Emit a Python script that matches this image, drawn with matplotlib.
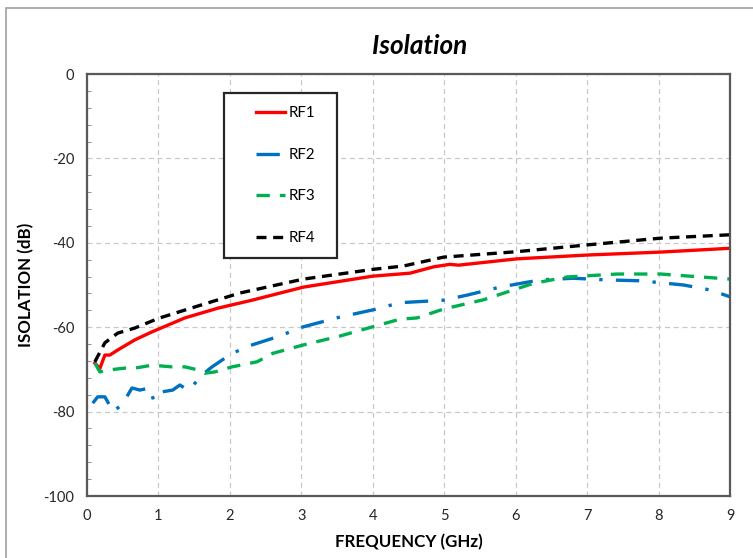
import matplotlib
matplotlib.use("Agg")
import matplotlib.pyplot as plt
from matplotlib.patches import Rectangle
from matplotlib.ticker import MultipleLocator

plt.rcParams['font.family'] = ['Lato', 'DejaVu Sans']
plt.rcParams['axes.unicode_minus'] = False

# RF1 - red solid
rf1_f = [0.11, 0.18, 0.25, 0.32, 0.43, 0.67, 0.91, 1.37, 1.83, 2.31, 3.03, 4.0, 4.52, 4.85, 5.08, 5.2, 6.02, 7.0, 8.03, 9.0]
rf1_db = [-68.5, -69.8, -66.6, -66.6, -65.4, -63.0, -61.1, -57.8, -55.5, -53.6, -50.5, -47.9, -47.2, -45.7, -45.1, -45.3, -43.8, -42.9, -42.2, -41.3]

# RF2 - blue dash-dot
rf2_f = [0.08, 0.15, 0.25, 0.29, 0.36, 0.49, 0.57, 0.63, 0.74, 0.88, 0.93, 1.02, 1.2, 1.3, 1.41, 1.49, 1.61, 1.75, 1.89, 2.03, 2.31, 2.66, 3.03, 3.54, 4.0, 4.38, 4.99, 5.32, 5.78, 6.34, 6.81, 7.28, 7.75, 8.35, 8.73, 9.0]
rf2_db = [-78.0, -76.5, -76.5, -77.7, -80.0, -78.4, -76.1, -74.4, -74.9, -74.4, -77.2, -75.4, -74.9, -73.7, -74.9, -73.7, -71.3, -69.4, -67.8, -66.2, -64.2, -62.3, -59.9, -57.6, -55.9, -54.2, -53.6, -52.4, -50.5, -48.8, -48.4, -48.8, -49.0, -50.0, -51.2, -52.8]

# RF3 - green dashed
rf3_f = [0.11, 0.18, 0.32, 0.53, 0.67, 0.91, 1.19, 1.37, 1.55, 1.65, 1.79, 2.03, 2.38, 2.6, 3.03, 3.54, 4.0, 4.38, 4.62, 4.99, 5.55, 6.25, 6.72, 7.42, 8.03, 9.0]
rf3_db = [-68.5, -70.6, -70.1, -69.7, -69.7, -69.0, -69.4, -69.4, -70.1, -70.9, -70.6, -69.4, -68.2, -66.2, -64.2, -62.1, -59.9, -58.1, -57.8, -55.7, -53.5, -49.6, -48.1, -47.4, -47.4, -48.6]

# RF4 - black dashed
rf4_f = [0.11, 0.25, 0.43, 0.67, 1.0, 1.51, 2.14, 3.03, 4.0, 4.43, 4.99, 6.02, 7.0, 8.03, 9.0]
rf4_db = [-68.2, -63.7, -61.4, -60.2, -57.9, -55.2, -51.9, -48.6, -46.3, -45.5, -43.4, -42.1, -40.5, -38.9, -38.1]

fig = plt.figure(figsize=(7.53, 5.58), dpi=100)
ax = fig.add_axes([87/753, 1-496/558, 643/753, 422/558])

lw = 2.4
ax.plot(rf1_f, rf1_db, color='#ff0000', lw=lw, label='RF1')
ax.plot(rf2_f, rf2_db, color='#0070c0', lw=lw, dashes=(7, 4, 1, 4), label='RF2')
ax.plot(rf3_f, rf3_db, color='#00b050', lw=lw, dashes=(4, 3), label='RF3')
ax.plot(rf4_f, rf4_db, color='#000000', lw=lw, dashes=(3, 2), label='RF4')

ax.set_xlim(0, 9)
ax.set_ylim(-100, 0)
ax.xaxis.set_major_locator(MultipleLocator(1))
ax.yaxis.set_major_locator(MultipleLocator(20))
ax.yaxis.set_minor_locator(MultipleLocator(4))
ax.grid(True, which='major', color='#c8c8c8', linestyle=(0, (4, 3)), lw=0.9)
ax.tick_params(axis='both', which='major', length=0, labelsize=10.5, pad=9, colors='#262626')
ax.tick_params(axis='y', which='minor', length=3, direction='in', color='#808080')
for sp in ax.spines.values():
    sp.set_color('#595959')
    sp.set_linewidth(1.6)

ax.set_xlabel('FREQUENCY (GHz)', fontsize=12.2, fontweight='bold', labelpad=8)
ax.set_ylabel('ISOLATION (dB)', fontsize=12.2, fontweight='bold', labelpad=7)
fig.text(420/753, 1-46/558, 'Isolation', fontsize=18.8, fontweight='bold', style='italic',
         ha='center', va='center')

# legend box
lx0, lx1 = (224-87)/643, (337-87)/643
ly0, ly1 = (496-258)/422, (496-93)/422
ax.add_patch(Rectangle((lx0, ly0), lx1-lx0, ly1-ly0, transform=ax.transAxes,
                       facecolor='white', edgecolor='#262626', lw=1.6, zorder=5))
leg = ax.legend(loc='upper left', bbox_to_anchor=((256-87)/643, (496-106)/422),
                frameon=False, fontsize=10.8, labelspacing=1.85, handlelength=1.95,
                handletextpad=0.2, borderpad=0, borderaxespad=0)
leg.set_zorder(6)

# figure border
fig.add_artist(Rectangle((6/753, -0.1), 1.2, 1-8/558+0.1, transform=fig.transFigure,
                         facecolor='none', edgecolor='#a0a0a0', lw=1.2))

fig.savefig('out.png', dpi=100)
